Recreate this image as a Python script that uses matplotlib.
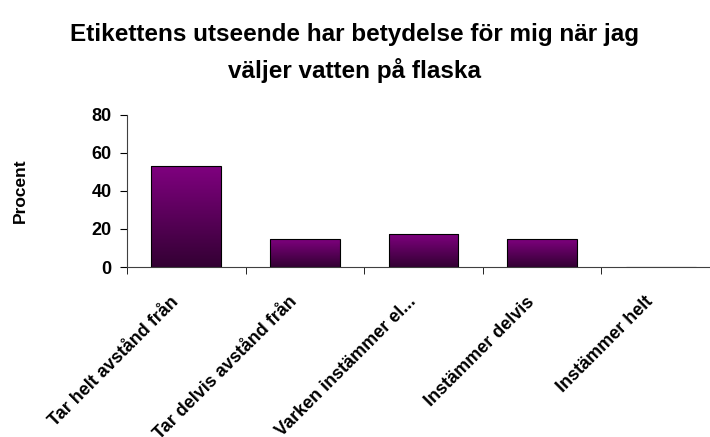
import numpy as np
import matplotlib.pyplot as plt
import matplotlib.transforms as mtransforms
from matplotlib.colors import LinearSegmentedColormap

plt.rcParams['font.family'] = ['Liberation Sans', 'DejaVu Sans']

title = 'Etikettens utseende har betydelse för mig när jag\nväljer vatten på flaska'
categories = ['Tar helt avstånd från', 'Tar delvis avstånd från',
              'Varken instämmer el...', 'Instämmer delvis', 'Instämmer helt']
values = [53.3, 14.9, 17.4, 14.9, 0.0]
yticks = [0, 20, 40, 60, 80]

fig = plt.figure(figsize=(7.1, 4.37), dpi=100)
ax = fig.add_axes([0.179, 0.389, 0.835, 0.348])

x = np.arange(len(categories)) + 0.5
bars = ax.bar(x, values, width=0.59, color='none', edgecolor='black', linewidth=0.8, zorder=3)

# vertical purple gradient inside each bar
cmap = LinearSegmentedColormap.from_list('purp', ['#330033', '#800080'])
grad = np.linspace(0, 1, 256).reshape(-1, 1)
for b in bars:
    h = b.get_height()
    if h <= 0:
        continue
    x0 = b.get_x()
    im = ax.imshow(grad, cmap=cmap, origin='lower', aspect='auto',
                   extent=(x0, x0 + b.get_width(), 0, h), zorder=2)
    im.set_clip_path(b)

ax.set_xlim(0, len(categories))
ax.set_ylim(0, 80)
ax.set_yticks(yticks)
ax.set_yticklabels([str(v) for v in yticks], fontsize=13, fontweight='bold')

ax.set_xticks(x)
ax.set_xticklabels(categories, rotation=45, ha='right', rotation_mode='anchor',
                   fontsize=13, fontweight='bold')
ax.tick_params(axis='x', which='major', length=0, pad=19)
ax.set_xticks(np.arange(len(categories) + 1), minor=True)
ax.tick_params(axis='x', which='minor', length=5, direction='out')
ax.tick_params(axis='y', length=5, direction='out', pad=6)

# labels sit a bit left of the category centre
shift = mtransforms.ScaledTranslation(-0.16, 0, fig.dpi_scale_trans)
for lbl in ax.get_xticklabels():
    lbl.set_transform(lbl.get_transform() + shift)

for s in ['top', 'right']:
    ax.spines[s].set_visible(False)
ax.spines['left'].set_color('#404040')
ax.spines['bottom'].set_color('#404040')

ax.set_ylabel('Procent', fontsize=12.5, fontweight='bold', labelpad=46)
fig.text(0.5, 0.878, title, ha='center', va='center', fontsize=17.5,
         fontweight='bold', linespacing=1.6)

fig.savefig('out.png', dpi=100)
